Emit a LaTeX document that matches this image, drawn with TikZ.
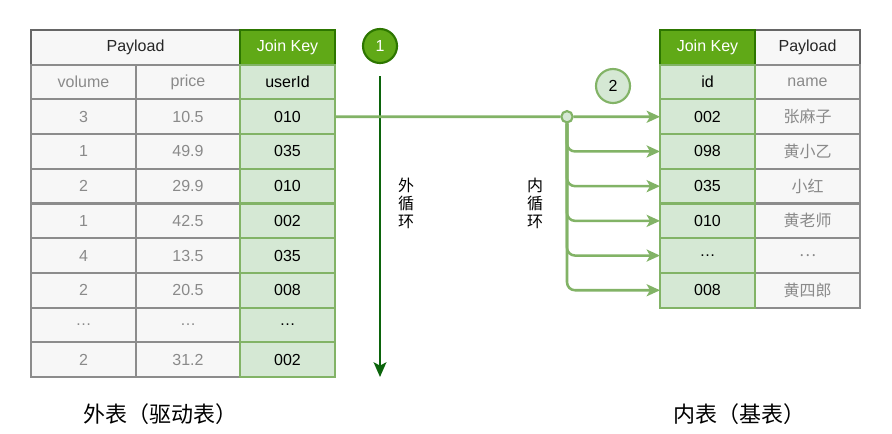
\documentclass[tikz,border=0pt]{standalone}
\usepackage{fontspec}
\setmainfont{Liberation Sans}
\newfontfamily\cjk{Noto Sans CJK SC}
\usetikzlibrary{arrows.meta}
\definecolor{pfill}{HTML}{F7F7F7}
\definecolor{pline}{HTML}{8C8C8C}
\definecolor{phline}{HTML}{666666}
\definecolor{ptext}{HTML}{8A8A8A}
\definecolor{kfill}{HTML}{D5E8D4}
\definecolor{kline}{HTML}{82B366}
\definecolor{khfill}{HTML}{60A917}
\definecolor{khline}{HTML}{2D7600}
\definecolor{darkloop}{HTML}{0B640B}
\begin{document}
\begin{tikzpicture}[x=0.75pt,y=-0.75pt,
  cell/.style={draw,line width=1.6pt,inner sep=0pt,outer sep=0pt,minimum height=26.025pt,font=\fontsize{12}{14}\selectfont},
  pcell/.style={cell,fill=pfill,draw=pline,text=ptext},
  phead/.style={cell,fill=pfill,draw=phline,text=black!85},
  kcell/.style={cell,fill=kfill,draw=kline,text=black},
  khead/.style={cell,fill=khfill,draw=khline,text=white},
  wA/.style={minimum width=78.75pt},
  wB/.style={minimum width=78pt},
  wK/.style={minimum width=71.25pt},
  wH/.style={minimum width=156.75pt},
  conn/.style={draw=kline,line width=1.9pt},
  connarrow/.style={conn,-{Stealth[length=10pt,width=9pt,inset=2.5pt]}},
  vtext/.style={align=center,font=\cjk\fontsize{12}{13.5}\selectfont},
  biglabel/.style={font=\cjk\fontsize{16.5}{20}\selectfont}
]
\useasboundingbox[fill=white] (0,0) rectangle (892,433);

% ---------- left table ----------
\node[phead,wH] (LH-p) at (135.5,47.35) {Payload};
\node[pcell,wA] (L1-a) at (83.5,82.05) {volume};
\node[pcell,wB] (L1-b) at (188,82.05) {price};
\foreach \a/\b [count=\i from 2] in {3/10.5,1/49.9,2/29.9,1/42.5,4/13.5,2/20.5,\ldots/\ldots,2/31.2}{
  \pgfmathsetmacro\yy{30+34.7*(\i+0.5)}
  \node[pcell,wA] (L\i-a) at (83.5,\yy) {\a};
  \node[pcell,wB] (L\i-b) at (188,\yy) {\b};
}
\node[khead,wK] (LH-k) at (287.5,47.35) {Join Key};
\node[kcell,wK] (L1-k) at (287.5,82.05) {userId};
\foreach \c [count=\i from 2] in {010,035,010,002,035,008,\ldots,002}{
  \pgfmathsetmacro\yy{30+34.7*(\i+0.5)}
  \node[kcell,wK] (L\i-k) at (287.5,\yy) {\c};
}

% ---------- right table ----------
\node[phead,wA] (RH-p) at (807.5,47.35) {Payload};
\node[pcell,wA] (R1-p) at (807.5,82.05) {name};
\foreach \n [count=\i from 2] in {张麻子,黄小乙,小红,黄老师,\ldots,黄四郎}{
  \pgfmathsetmacro\yy{30+34.7*(\i+0.5)}
  \node[pcell,wA,font=\cjk\fontsize{12}{14}\selectfont] (R\i-p) at (807.5,\yy) {\n};
}
\node[khead,wK] (RH-k) at (707.5,47.35) {Join Key};
\node[kcell,wK] (R1-k) at (707.5,82.05) {id};
\foreach \c [count=\i from 2] in {002,098,035,010,\ldots,008}{
  \pgfmathsetmacro\yy{30+34.7*(\i+0.5)}
  \node[kcell,wK] (R\i-k) at (707.5,\yy) {\c};
}

% ---------- step markers ----------
\node[circle,draw=khline,fill=khfill,line width=1.6pt,minimum size=25.5pt,inner sep=0pt,text=white,font=\fontsize{12}{14}\selectfont] (s1) at (380,46) {1};
\node[circle,draw=kline,fill=kfill,line width=1.6pt,minimum size=25.5pt,inner sep=0pt,text=black,font=\fontsize{12}{14}\selectfont] (s2) at (613,86) {2};

% ---------- outer loop ----------
\coordinate (o1) at (380,76);
\coordinate (o2) at (380,377);
\draw[draw=darkloop,line width=1.9pt,-{Stealth[length=11pt,width=9.5pt,inset=2.5pt]}] (o1) -- (o2);
\node[vtext] (t1) at (406,203) {外\\循\\环};
\node[vtext] (t2) at (535,203) {内\\循\\环};

% ---------- inner loop connectors ----------
\node[circle,draw=kline,fill=kfill,line width=1.6pt,minimum size=8.5pt,inner sep=0pt] (j) at (567,116.75) {};
\draw[conn] (L2-k.east) -- (j);
\draw[connarrow] (j) -- (R2-k.west);
\foreach \i in {3,...,7}{
  \draw[connarrow,rounded corners=6pt] (j) |- (R\i-k.west);
}

% ---------- captions ----------
\node[biglabel] (cap1) at (160,414) {外表（驱动表）};
\node[biglabel] (cap2) at (739,414) {内表（基表）};
\end{tikzpicture}
\end{document}
